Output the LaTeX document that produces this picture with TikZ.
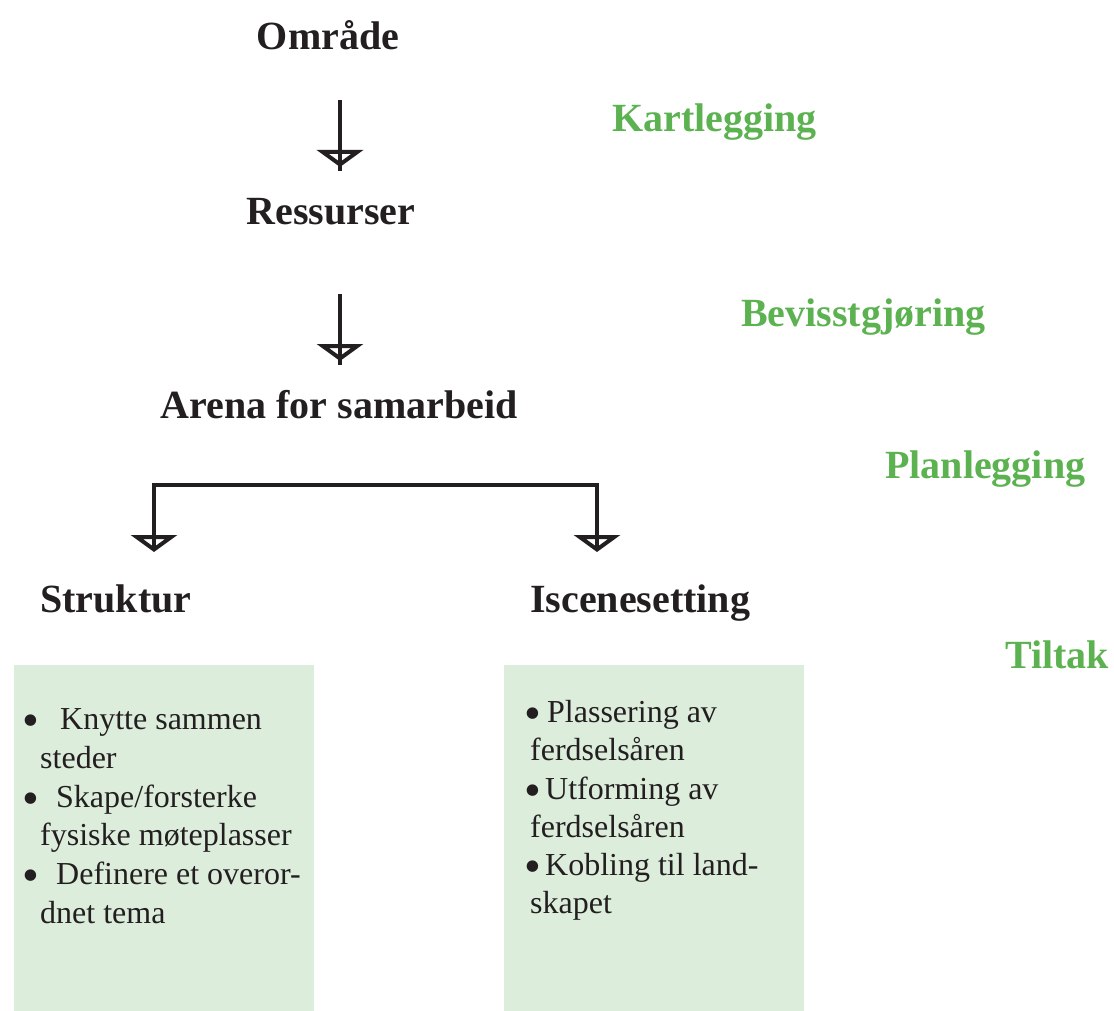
\documentclass[tikz,border=0pt]{standalone}
\usepackage{fontspec}
\setmainfont{Liberation Serif}
\usetikzlibrary{arrows.meta}
\definecolor{ink}{RGB}{35,31,32}
\definecolor{lgreen}{RGB}{92,178,80}
\definecolor{boxfill}{RGB}{221,237,220}
\newcommand{\bigbul}{\raisebox{-7.2pt}{\scalebox{1.5}{\textbullet}}}
\tikzset{
  x=1pt, y=-1pt,
  head/.style={font=\fontsize{40}{48}\selectfont\bfseries, text=ink, inner sep=0pt, anchor=base},
  phase/.style={font=\fontsize{40}{48}\selectfont\bfseries, text=lgreen, inner sep=0pt, anchor=base west},
  item/.style={font=\fontsize{32}{39}\selectfont, text=ink, inner sep=0pt, anchor=base west},
  panel/.style={fill=boxfill, draw=none},
  arr/.style={draw=ink, line width=4pt, -{Triangle[open, length=17pt, width=46pt, line width=4pt]}},
  shaft/.style={draw=ink, line width=4pt}
}
\begin{document}
\begin{tikzpicture}
\useasboundingbox (0,0) rectangle (1114,1011);
% panels
\fill[panel] (14,665) rectangle (314,1011);
\fill[panel] (504,665) rectangle (804,1011);
% headings
\node[head] (omr) at (328,50) {Område};
\node[head] (res) at (331,225) {Ressurser};
\node[head] (are) at (339,418) {Arena for samarbeid};
\node[head, anchor=base west] (str) at (40,612) {Struktur};
\node[head, anchor=base west] (isc) at (530,612) {Iscenesetting};
% phases
\node[phase] (kart) at (612,132) {Kartlegging};
\node[phase] (bev) at (741,326) {Bevisstgjøring};
\node[phase] (plan) at (885,478) {Planlegging};
\node[phase] (tilt) at (1005,668) {Tiltak};
% connectors
\coordinate (a1s) at (340,100);
\coordinate (a1e) at (340,167);
\coordinate (a2s) at (340,294);
\coordinate (a2e) at (340,361);
\coordinate (bl) at (154,485);
\coordinate (br) at (597,485);
\coordinate (ble) at (154,552);
\coordinate (bre) at (597,552);
\draw[arr] (a1s) -- (a1e);
\draw[shaft] (a1s) -- ([yshift=-4pt]a1e);
\draw[arr] (a2s) -- (a2e);
\draw[shaft] (a2s) -- ([yshift=-4pt]a2e);
\draw[arr] ([yshift=2pt]bl) -- (ble);
\draw[arr] ([yshift=2pt]br) -- (bre);
\draw[shaft, line join=miter] (ble |- 0,548) -- (bl) -- (br) -- (bre |- 0,548);
% left list
\node[item] (l1) at (22,729) {\makebox[38pt][l]{\bigbul}Knytte sammen};
\node[item] (l2) at (40,768) {steder};
\node[item] (l3) at (22,807) {\makebox[34pt][l]{\bigbul}Skape/forsterke};
\node[item] (l4) at (40,845) {fysiske møteplasser};
\node[item] (l5) at (22,884) {\makebox[34pt][l]{\bigbul}Definere et overor-};
\node[item] (l6) at (40,923) {dnet tema};
% right list
\node[item] (r1) at (524,722) {\makebox[23pt][l]{\bigbul}Plassering av};
\node[item] (r2) at (530,760) {ferdselsåren};
\node[item] (r3) at (524,799) {\makebox[21pt][l]{\bigbul}Utforming av};
\node[item] (r4) at (530,837) {ferdselsåren};
\node[item] (r5) at (524,875) {\makebox[21pt][l]{\bigbul}Kobling til land-};
\node[item] (r6) at (530,913) {skapet};
\end{tikzpicture}
\end{document}
